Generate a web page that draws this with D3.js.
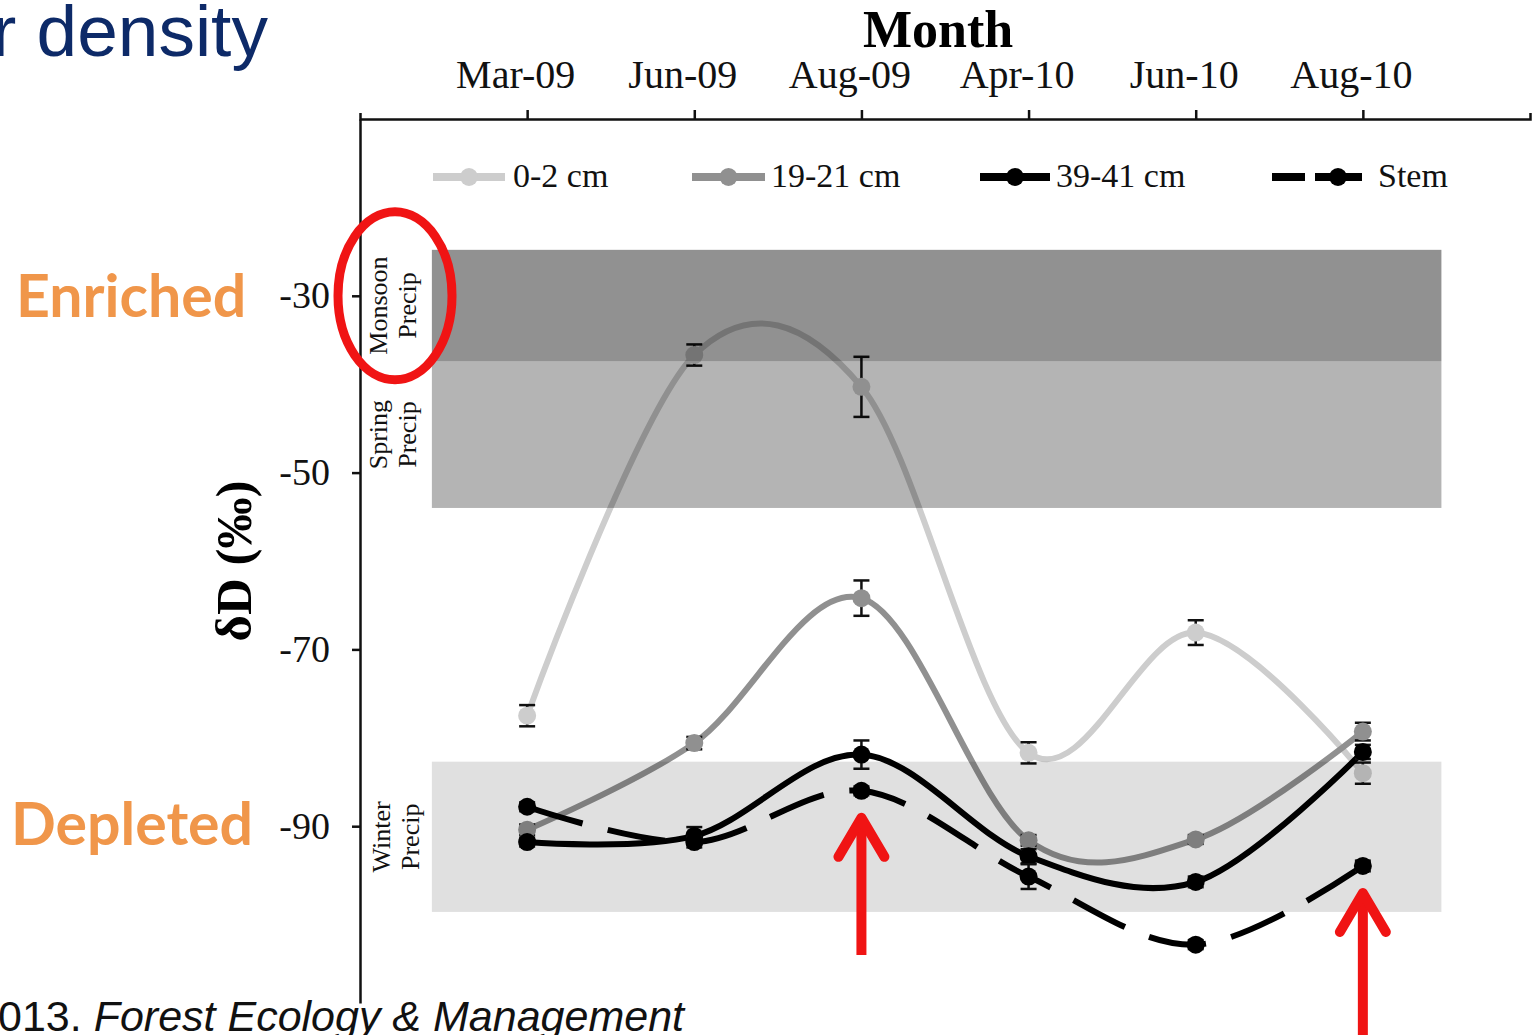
<!DOCTYPE html>
<html>
<head>
<meta charset="utf-8">
<script src="https://cdn.jsdelivr.net/npm/d3@7"></script>
<style>
  html, body { margin: 0; padding: 0; background: #fff; overflow: hidden; }
  svg { display: block; }
</style>
</head>
<body>
<svg id="chart" width="1534" height="1035"></svg>
<script>
// Sampling months
const months = ["Mar-09", "Jun-09", "Aug-09", "Apr-10", "Jun-10", "Aug-10"];

// δD (‰) means and error bar half-widths per depth / tissue
const soil0to2 = [-77.5, -36.7, -40.3, -81.7, -68.1, -84.0];
const soil0to2Err = [1.2, 1.2, 3.4, 1.2, 1.4, 1.2];
const soil19to21 = [-90.4, -80.6, -64.2, -91.6, -91.5, -79.3];
const soil19to21Err = [0.6, 0.7, 2.0, 0.6, 0.5, 1.0];
const soil39to41 = [-91.8, -91.1, -81.9, -93.4, -96.3, -81.6];
const soil39to41Err = [0.5, 1.0, 1.6, 0.8, 0.6, 0.8];
const stem = [-87.8, -91.8, -86.0, -95.7, -103.4, -94.5];
const stemErr = [0.5, 0.6, 0.5, 1.4, 0.5, 0.6];

// Precipitation source ranges [upper, lower] in ‰
const sourceNames = ["Monsoon", "Spring", "Winter"];
const sourceRanges = [[-24.8, -37.4], [-37.4, -54.0], [-82.7, -99.7]];

const yTicks = [-30, -50, -70, -90];
const seriesNames = ["0-2 cm", "19-21 cm", "39-41 cm", "Stem"];

const svg = d3.select("#chart");
const serif = "'Liberation Serif', 'Times New Roman', serif";

const x = d3.scalePoint().domain(months).range([360, 1530]).padding(1);
const y = d3.scaleLinear().domain([-110, -10]).range([1003, 119]);
const step = x.step();

// Axes
const xAxis = svg.append("g")
  .attr("transform", `translate(0,${y(-10)})`)
  .call(d3.axisTop(x).tickSize(9).tickSizeOuter(6).tickPadding(22));
xAxis.selectAll("text").attr("dx", -12);
const yAxis = svg.append("g")
  .attr("transform", `translate(360,0)`)
  .call(d3.axisLeft(y).tickValues(yTicks).tickFormat(d => String(d))
    .tickSize(8).tickSizeOuter(0).tickPadding(22));
[xAxis, yAxis].forEach(a => {
  a.selectAll("path, line").attr("stroke", "#111").attr("stroke-width", 2.5);
  a.selectAll("text").attr("font-family", serif).attr("font-size", 40).attr("fill", "#111");
});
yAxis.selectAll("text").attr("font-size", 38);

svg.append("text")
  .attr("x", 938).attr("y", 47)
  .attr("text-anchor", "middle")
  .attr("font-family", serif).attr("font-weight", "bold").attr("font-size", 52)
  .text("Month");

svg.append("text")
  .attr("transform", `translate(251,${y(-60)}) rotate(-90)`)
  .attr("text-anchor", "middle")
  .attr("font-family", serif).attr("font-weight", "bold").attr("font-size", 51)
  .text("δD (‰)");

// Series
const series = [
  { name: seriesNames[0], values: soil0to2, err: soil0to2Err, color: "#cdcdcd", dash: null },
  { name: seriesNames[1], values: soil19to21, err: soil19to21Err, color: "#909090", dash: null },
  { name: seriesNames[2], values: soil39to41, err: soil39to41Err, color: "#000", dash: null },
  { name: seriesNames[3], values: stem, err: stemErr, color: "#000", dash: "58 26" }
];

const line = d3.line()
  .x((d, i) => x(months[i]))
  .y(d => y(d))
  .curve(d3.curveCatmullRom.alpha(0));

series.forEach(s => {
  const g = svg.append("g");
  g.append("path")
    .attr("d", line(s.values))
    .attr("fill", "none")
    .attr("stroke", s.color)
    .attr("stroke-width", 6)
    .attr("stroke-dasharray", s.dash);
  const eb = g.append("g").attr("stroke", "#111").attr("stroke-width", 2.5);
  s.values.forEach((v, i) => {
    const cx = x(months[i]);
    const e = s.err[i];
    eb.append("line").attr("x1", cx).attr("x2", cx).attr("y1", y(v + e)).attr("y2", y(v - e));
    eb.append("line").attr("x1", cx - 8).attr("x2", cx + 8).attr("y1", y(v + e)).attr("y2", y(v + e));
    eb.append("line").attr("x1", cx - 8).attr("x2", cx + 8).attr("y1", y(v - e)).attr("y2", y(v - e));
  });
  g.selectAll("circle")
    .data(s.values)
    .join("circle")
    .attr("cx", (d, i) => x(months[i]))
    .attr("cy", d => y(d))
    .attr("r", 9)
    .attr("fill", s.color);
});

// Source bands: translucent dark overlays that darken whatever lies beneath
const bandOpacity = [0.43, 0.295, 0.122];
const bandX0 = x(months[0]) - 0.57 * step;
const bandX1 = x(months[months.length - 1]) + 0.47 * step;
svg.append("g").selectAll("rect")
  .data(sourceRanges)
  .join("rect")
  .attr("x", bandX0)
  .attr("width", bandX1 - bandX0)
  .attr("y", d => y(d[0]))
  .attr("height", d => y(d[1]) - y(d[0]))
  .attr("fill", "#000")
  .attr("fill-opacity", (d, i) => bandOpacity[i]);

// Band labels, rotated, two lines each
const bandLabels = svg.append("g").attr("font-family", serif).attr("font-size", 26).attr("fill", "#111");
sourceRanges.forEach((r, i) => {
  const cy = y((r[0] + r[1]) / 2);
  const g = bandLabels.append("g").attr("transform", `translate(${i === 2 ? 381 : 378},${cy}) rotate(-90)`);
  g.append("text").attr("text-anchor", "middle").attr("y", 9).text(sourceNames[i]);
  g.append("text").attr("text-anchor", "middle").attr("y", 38).text("Precip");
});

// Legend
const legendItems = [
  { x0: 433, x1: 505, tx: 513 },
  { x0: 692, x1: 765, tx: 771 },
  { x0: 980, x1: 1050, tx: 1056 },
  { x0: 1272, x1: 1362, tx: 1378 }
];
const legend = svg.append("g").attr("font-family", serif).attr("font-size", 34);
series.forEach((s, i) => {
  const it = legendItems[i];
  const ly = 177;
  if (s.dash) {
    legend.append("line").attr("x1", it.x0).attr("x2", it.x0 + 33).attr("y1", ly).attr("y2", ly)
      .attr("stroke", s.color).attr("stroke-width", 8);
    legend.append("line").attr("x1", it.x0 + 43).attr("x2", it.x1).attr("y1", ly).attr("y2", ly)
      .attr("stroke", s.color).attr("stroke-width", 8);
  } else {
    legend.append("line").attr("x1", it.x0).attr("x2", it.x1).attr("y1", ly).attr("y2", ly)
      .attr("stroke", s.color).attr("stroke-width", 8);
  }
  const mx = s.dash ? it.x0 + 66 : (it.x0 + it.x1) / 2;
  legend.append("circle").attr("cx", mx).attr("cy", ly).attr("r", 9).attr("fill", s.color);
  legend.append("text").attr("x", it.tx).attr("y", ly + 10).attr("fill", "#111").text(s.name);
});

// Side labels
const orange = "#f0964a";
svg.append("text").attr("x", 16).attr("y", 317)
  .attr("font-family", "Lato, 'Open Sans', sans-serif").attr("font-weight", "bold").attr("font-size", 59)
  .attr("fill", orange).text("Enriched");
svg.append("text").attr("x", 11).attr("y", 845)
  .attr("font-family", "Lato, 'Open Sans', sans-serif").attr("font-weight", "bold").attr("font-size", 59)
  .attr("fill", orange).text("Depleted");

// Heading and citation fragments
svg.append("text").attr("x", -8).attr("y", 56)
  .attr("font-family", "'Liberation Sans', Arial, sans-serif").attr("font-size", 73)
  .attr("fill", "#0d2a68").text("r density");

const cite = svg.append("text").attr("x", -2).attr("y", 1031)
  .attr("font-family", "'Liberation Sans', Arial, sans-serif").attr("font-size", 43).attr("fill", "#111");
cite.append("tspan").text("013. ");
cite.append("tspan").attr("font-style", "italic").text("Forest Ecology & Management");

// Highlights: ellipse around monsoon label, arrows at Aug stem values
const red = "#f01414";
svg.append("ellipse")
  .attr("cx", 395).attr("cy", y(-30))
  .attr("rx", 57).attr("ry", 84)
  .attr("fill", "none").attr("stroke", red).attr("stroke-width", 9);

function arrow(month, value, tailY) {
  const ax = x(month);
  const tip = y(value) + 27;
  const g = svg.append("g").attr("stroke", red).attr("stroke-width", 10).attr("fill", "none")
    .attr("stroke-linecap", "round").attr("stroke-linejoin", "round");
  g.append("line").attr("x1", ax).attr("x2", ax).attr("y1", tailY).attr("y2", tip + 4).attr("stroke-linecap", "butt");
  g.append("path").attr("d", `M${ax - 23},${tip + 39} L${ax},${tip} L${ax + 23},${tip + 39}`);
}
arrow("Aug-09", stem[2], 955);
arrow("Aug-10", stem[5], 1040);
</script>
</body>
</html>
